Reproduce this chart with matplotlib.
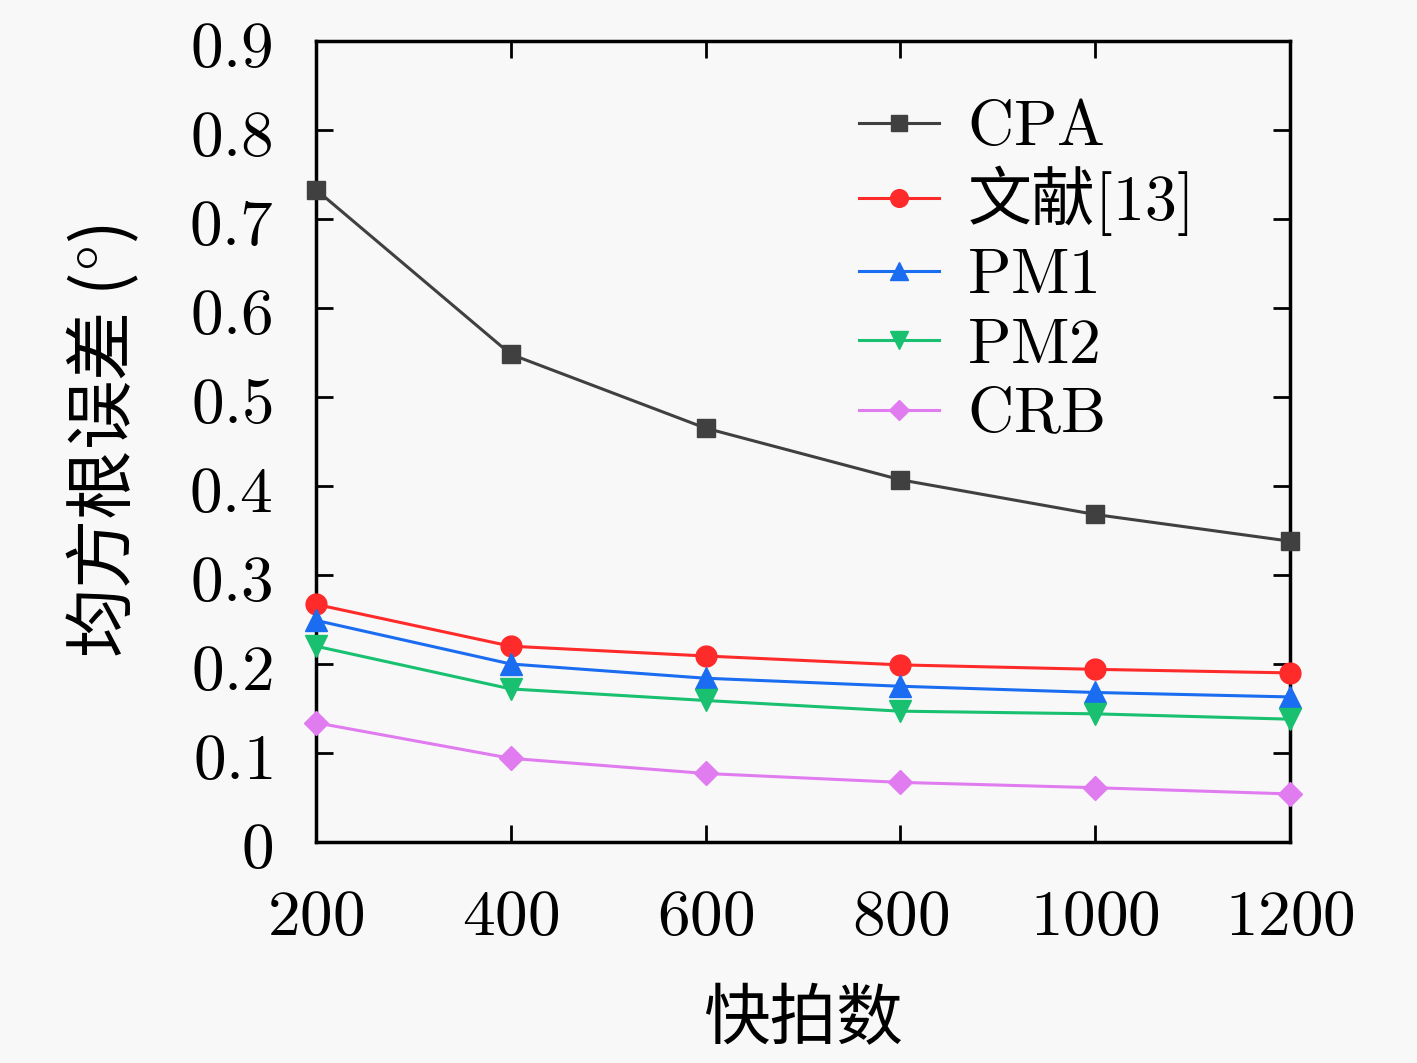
import matplotlib
matplotlib.use("Agg")
import matplotlib.pyplot as plt

plt.rcParams['font.family'] = ['Noto Sans CJK SC', 'DejaVu Sans']
plt.rcParams['mathtext.fontset'] = 'cm'

# snapshots
snapshots = [200, 400, 600, 800, 1000, 1200]

cpa   = [0.733, 0.548, 0.465, 0.407, 0.368, 0.338]
ref13 = [0.267, 0.220, 0.209, 0.199, 0.194, 0.190]
pm1   = [0.249, 0.200, 0.184, 0.175, 0.168, 0.163]
pm2   = [0.220, 0.172, 0.159, 0.147, 0.144, 0.138]
crb   = [0.134, 0.094, 0.077, 0.067, 0.061, 0.054]

labels = [r'$\mathrm{CPA}$', r'文献$[13]$', r'$\mathrm{PM1}$', r'$\mathrm{PM2}$', r'$\mathrm{CRB}$']

yticks = [0, 0.1, 0.2, 0.3, 0.4, 0.5, 0.6, 0.7, 0.8, 0.9]

bg = '#f8f8f8'
fig = plt.figure(figsize=(14.17, 10.63), dpi=100, facecolor=bg)
ax = fig.add_axes([316/1417, 1 - 842/1063, (1290-316)/1417, (842-41)/1063])
ax.set_facecolor(bg)

lw = 2.2
ax.plot(snapshots, cpa, color='#404040', marker='s', markersize=13, linewidth=lw, label=labels[0], clip_on=False, zorder=3)
ax.plot(snapshots, ref13, color='#ff2a2a', marker='o', markersize=15, linewidth=lw, label=labels[1], clip_on=False, zorder=3)
ax.plot(snapshots, pm1, color='#1a6cf0', marker='^', markersize=16, linewidth=lw, label=labels[2], clip_on=False, zorder=3)
ax.plot(snapshots, pm2, color='#18c070', marker='v', markersize=16, linewidth=lw, label=labels[3], clip_on=False, zorder=3)
ax.plot(snapshots, crb, color='#e07cf0', marker='D', markersize=12, linewidth=lw, label=labels[4], clip_on=False, zorder=3)

ax.set_xlim(200, 1200)
ax.set_ylim(0, 0.9)
ax.set_xticks(snapshots)
ax.set_xticklabels([f'${s}$' for s in snapshots])
ax.set_yticks(yticks)
ax.set_yticklabels(['$0$'] + [f'${t:.1f}$' for t in yticks[1:]])

for s in ax.spines.values():
    s.set_linewidth(2.5)
ax.tick_params(direction='in', length=12, width=2, top=True, right=True,
               labelsize=47)
ax.tick_params(axis='x', pad=30)
ax.tick_params(axis='y', pad=31)

ax.set_xlabel('快拍数', fontsize=48, labelpad=26)
ax.set_ylabel('均方根误差 ($\\degree$)', fontsize=50, labelpad=34)

leg = ax.legend(loc='upper right', bbox_to_anchor=(0.942, 0.99), frameon=False,
                fontsize=46, handlelength=1.25, handletextpad=0.45, labelspacing=0.05,
                borderaxespad=0.3, markerscale=0.85)

fig.savefig('out.png', dpi=100, facecolor=bg)
